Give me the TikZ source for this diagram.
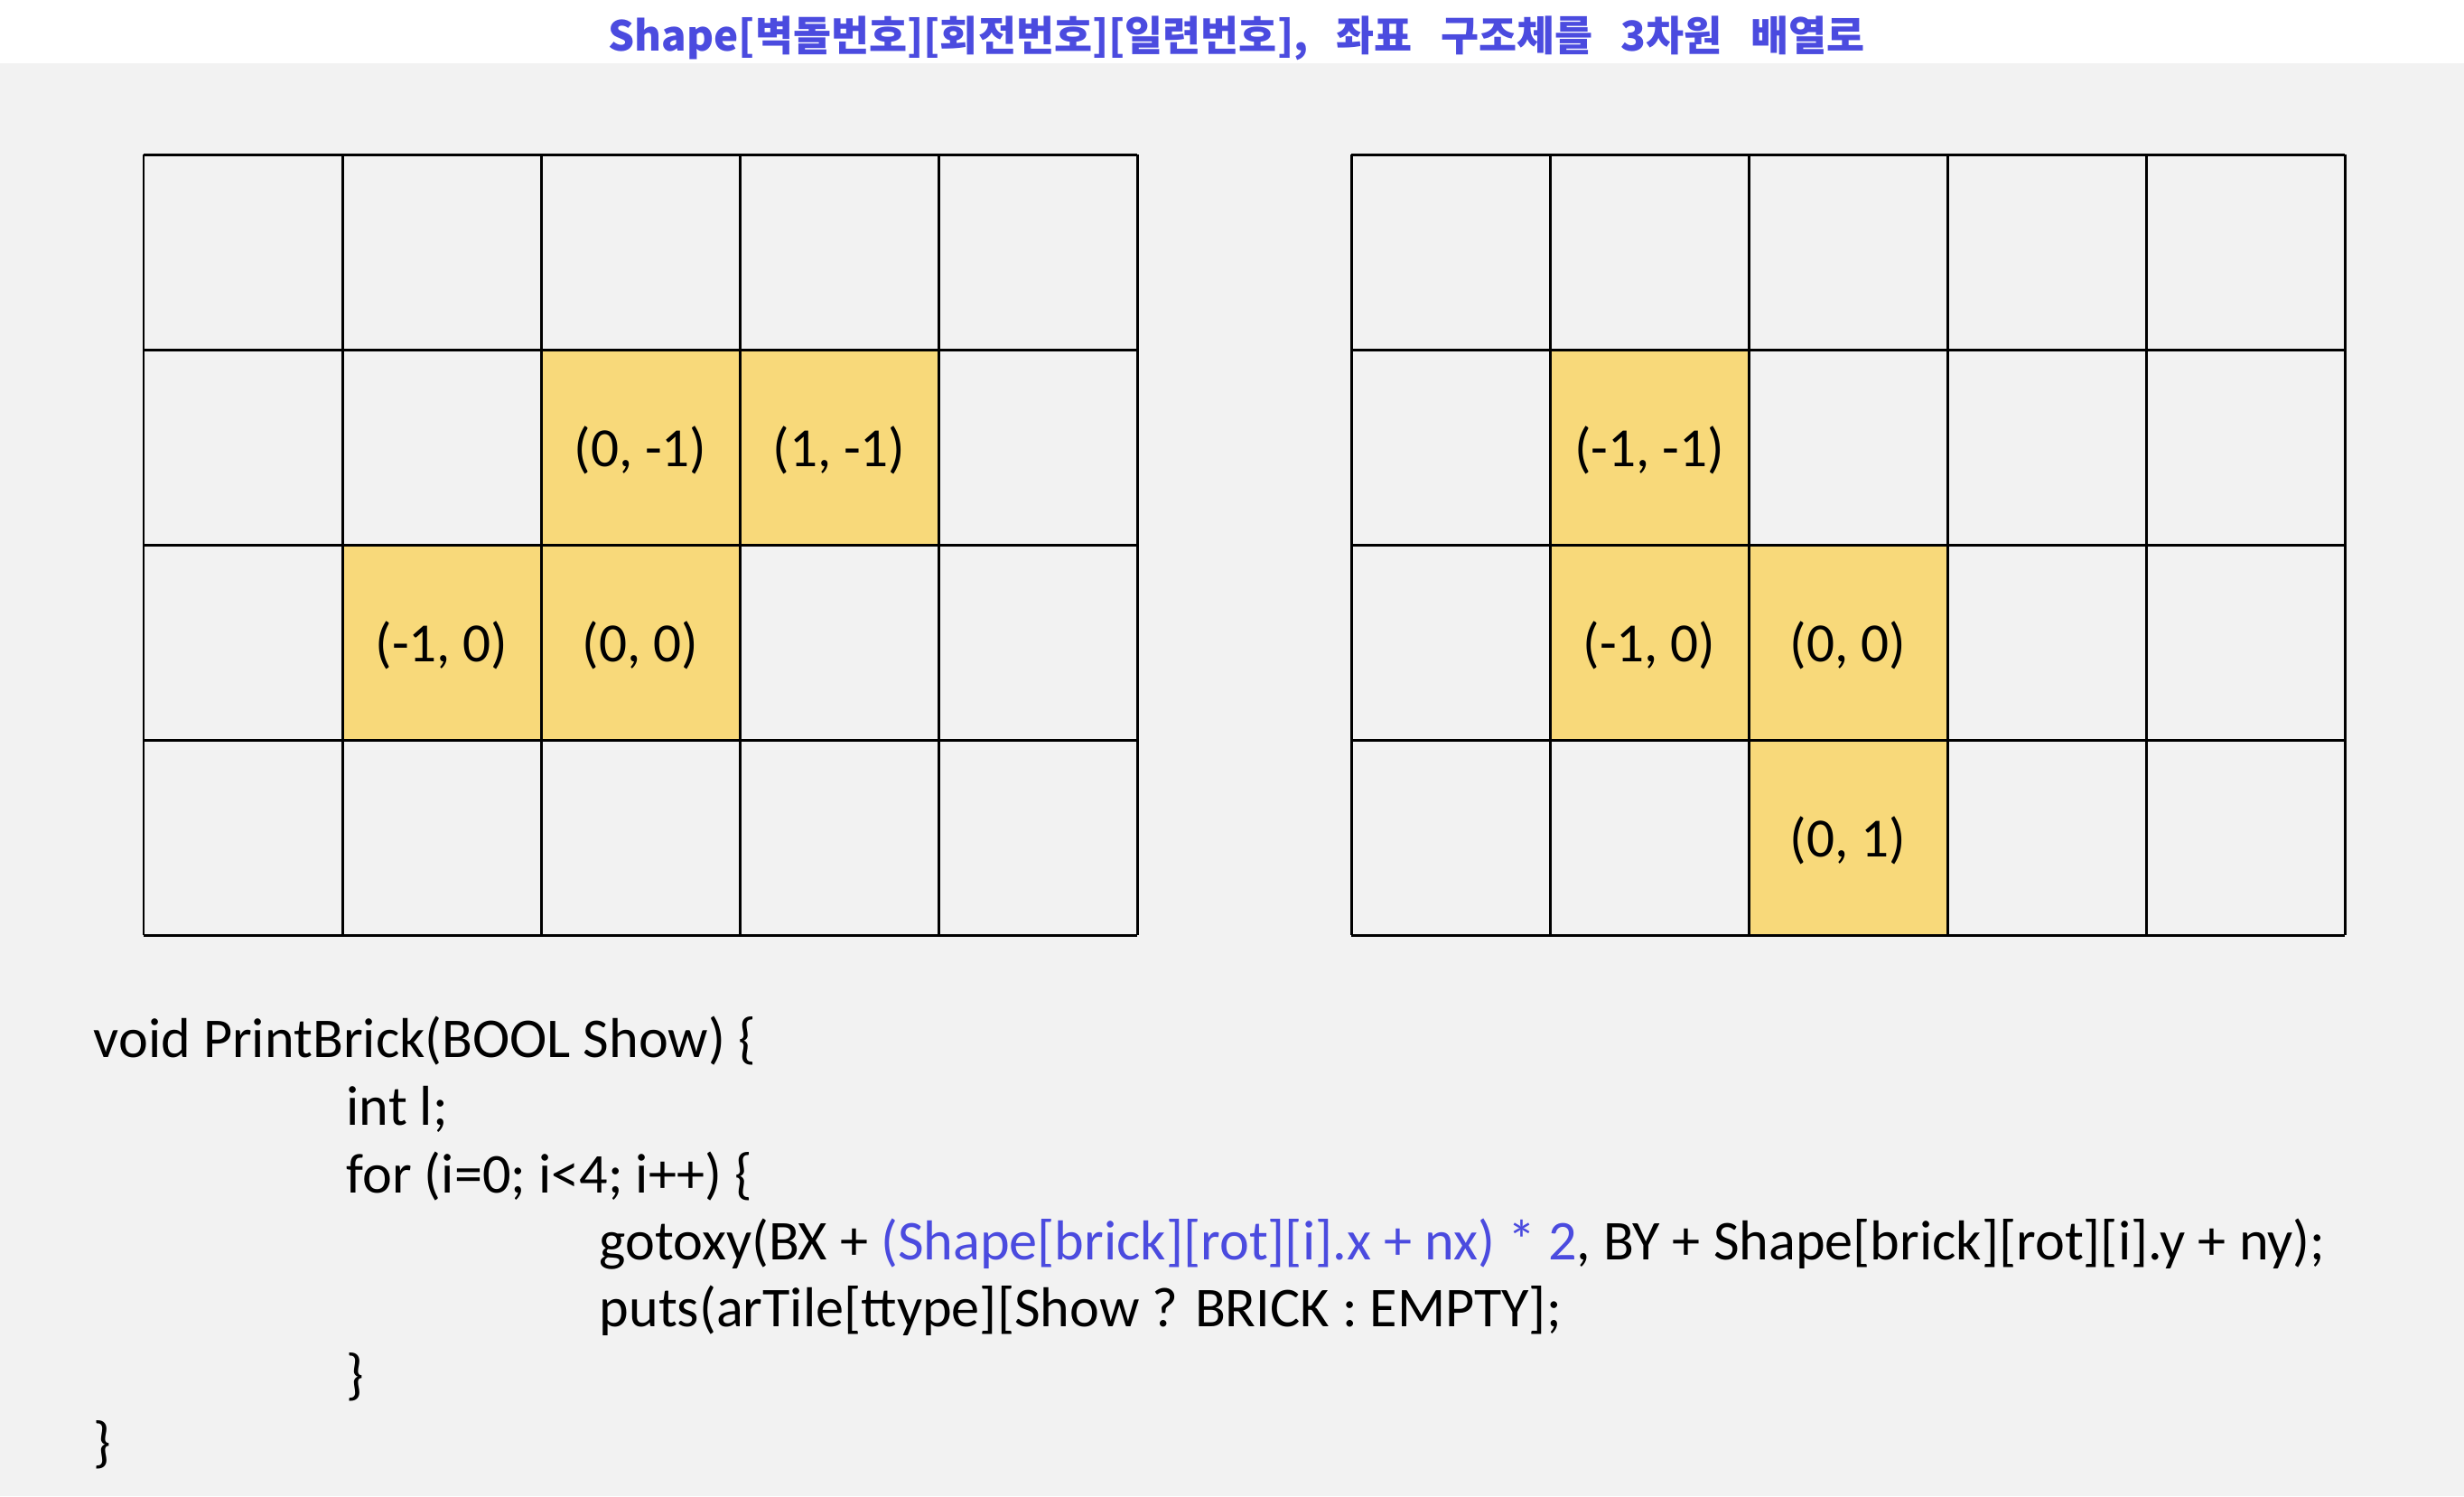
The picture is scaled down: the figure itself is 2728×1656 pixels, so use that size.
\documentclass[tikz,border=0pt]{standalone}
\usepackage{fontspec}
\setmainfont{Carlito}
\newfontfamily\krfont{Noto Sans CJK KR}[WordSpace=3]
\definecolor{bgray}{HTML}{F2F2F2}
\definecolor{cellyellow}{HTML}{F8D97A}
\definecolor{codeblue}{HTML}{4B4BDF}
\begin{document}
\begin{tikzpicture}[x=0.01cm,y=-0.01cm,
  gridline/.style={line width=0.85pt,draw=black},
  hl/.style={fill=cellyellow},
  celltext/.style={font=\fontsize{17.4pt}{20pt}\selectfont,text=black,inner sep=0pt},
  codetext/.style={font=\fontsize{17.7pt}{20pt}\selectfont,text=black,inner sep=0pt,anchor=base west},
  titletext/.style={font=\krfont\bfseries\fontsize{13pt}{15pt}\selectfont,text=codeblue,inner sep=0pt}]
\useasboundingbox (0,0) rectangle (2728,1656);
\fill[white] (0,0) rectangle (2728,70);
\fill[bgray] (0,70) rectangle (2728,1656);
\node[titletext] (title) at (1369,42) {Shape[벽돌번호][회전번호][일련번호], 좌표 구조체를 3차원 배열로};
% left grid highlighted cells
\def\cw{220}\def\ch{216}
\fill[hl] (599,387) rectangle (1039,603);
\fill[hl] (379,603) rectangle (819,819);
% right grid highlighted cells
\fill[hl] (1716,387) rectangle (1936,819);
\fill[hl] (1936,603) rectangle (2156,1035);
% grids
\foreach \gx in {159,1496}{
  \foreach \i in {0,...,5}{\draw[gridline] (\gx+\i*\cw,171) -- (\gx+\i*\cw,1035);}
  \foreach \j in {0,...,4}{\draw[gridline] (\gx,171+\j*\ch) -- (\gx+5*\cw,171+\j*\ch);}
}
% left labels
\node[celltext] (l01) at (709,498) {(0, -1)};
\node[celltext] (l11) at (929,498) {(1, -1)};
\node[celltext] (lm10) at (489,714) {(-1, 0)};
\node[celltext] (l00) at (709,714) {(0, 0)};
% right labels
\node[celltext] (rm1m1) at (1826,498) {(-1, -1)};
\node[celltext] (rm10) at (1826,714) {(-1, 0)};
\node[celltext] (r00) at (2046,714) {(0, 0)};
\node[celltext] (r01) at (2046,930) {(0, 1)};
% code
\node[codetext] (c1) at (103,1170) {void PrintBrick(BOOL Show) \{};
\node[codetext] (c2) at (383,1245) {int l;};
\node[codetext] (c3) at (383,1320) {for (i=0; i<4; i++) \{};
\node[codetext] (c4) at (663,1394) {gotoxy(BX + \textcolor{codeblue}{(Shape[brick][rot][i].x + nx) * 2}, BY + Shape[brick][rot][i].y + ny);};
\node[codetext] (c5) at (663,1468) {puts(arTile[ttype][Show ? BRICK : EMPTY];};
\node[codetext] (c6) at (383,1542) {\}};
\node[codetext] (c7) at (103,1617) {\}};
\end{tikzpicture}
\end{document}
